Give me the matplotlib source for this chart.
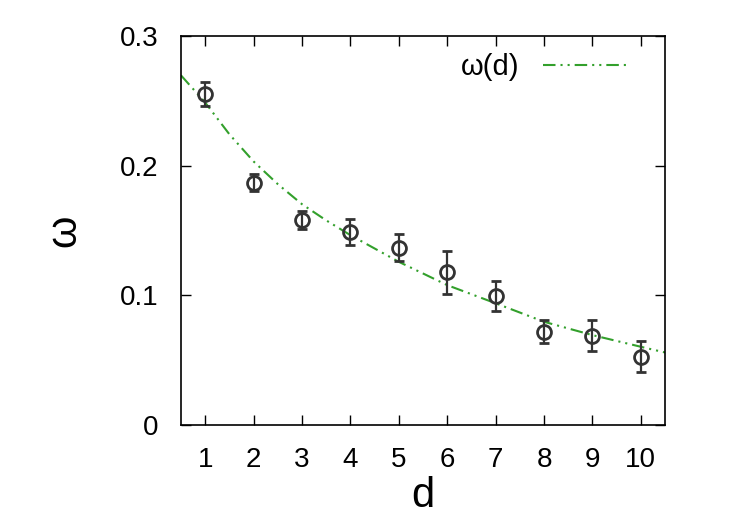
import numpy as np
import matplotlib
matplotlib.use("Agg")
import matplotlib.pyplot as plt

plt.rcParams['font.family'] = ['Liberation Sans', 'DejaVu Sans']

# measured points
d = [1, 2, 3, 4, 5, 6, 7, 8, 9, 10]
omega = [0.2555, 0.187, 0.158, 0.149, 0.137, 0.118, 0.0995, 0.072, 0.069, 0.0527]
omega_err = [0.0095, 0.0065, 0.007, 0.010, 0.0105, 0.0165, 0.0115, 0.0088, 0.012, 0.0118]

# fit curve omega(d)
fit_d = [0.5, 1, 1.5, 2, 2.5, 3, 3.5, 4, 5, 6, 7, 8, 9, 10, 10.5]
fit_omega = [0.270, 0.249, 0.2245, 0.2035, 0.186, 0.1705, 0.158, 0.1466, 0.126,
             0.108, 0.094, 0.0797, 0.0694, 0.0604, 0.056]

fig = plt.figure(figsize=(7.5, 5.25), dpi=100)
ax = fig.add_axes([0.2413, 0.1905, 0.6454, 0.74])

line, = ax.plot(fit_d, fit_omega, color='#33a02c', lw=1.5, label=r'ω(d)')
line.set_dashes([6, 2.4, 1, 2.4, 1, 2.4])

ax.errorbar(d, omega, yerr=omega_err, fmt='o', ms=10, mfc='none', mec='#333333',
            mew=2, ecolor='#333333', elinewidth=1.6, capsize=3.5, capthick=1.6)

ax.set_xlim(0.5, 10.5)
ax.set_ylim(0, 0.3)
ax.set_xticks(d)
ax.set_yticks([0, 0.1, 0.2, 0.3])
ax.set_yticklabels(['0', '0.1', '0.2', '0.3'])
ax.tick_params(direction='in', top=True, right=True, length=7, width=1,
               labelsize=20, pad=16)
for s in ax.spines.values():
    s.set_linewidth(1.2)

ax.set_xlabel('d', fontsize=30, labelpad=2)
ax.set_ylabel('ω', fontsize=30, labelpad=26)

ax.legend(loc='upper right', frameon=False, fontsize=21, markerfirst=False,
          handlelength=2.9, handletextpad=0.8, bbox_to_anchor=(0.977, 1.025))

fig.savefig('out.png', dpi=100)
